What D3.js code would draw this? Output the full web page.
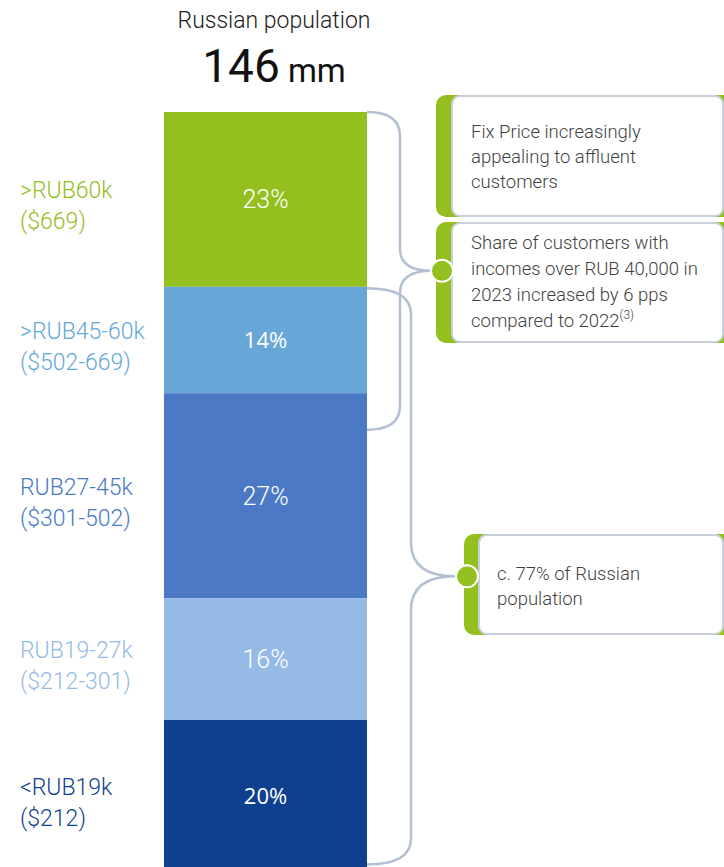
<!DOCTYPE html>
<html>
<head>
<meta charset="utf-8">
<script src="https://cdn.jsdelivr.net/npm/d3@7"></script>
<style>
  body { margin: 0; background: #fff; }
  svg { display: block; font-family: Roboto, "Open Sans", sans-serif; }
</style>
</head>
<body>
<div id="chart"></div>
<script>
// income bands of the Russian population, top of the bar first
const bands = [">RUB60k", ">RUB45-60k", "RUB27-45k", "RUB19-27k", "<RUB19k"];
const usdBands = ["($669)", "($502-669)", "($301-502)", "($212-301)", "($212)"];
const shares = [23, 14, 27, 16, 20];
const bandColors = ["#93C01F", "#66A7D8", "#4B79C5", "#95BAE6", "#0F3F8F"];
const boldLabel = [false, true, false, false, true];

// callouts
const calloutTop = ["Fix Price increasingly", "appealing to affluent", "customers"];
const calloutMid = ["Share of customers with", "incomes over RUB 40,000 in", "2023 increased by 6 pps", "compared to 2022"];
const calloutLow = ["c. 77% of Russian", "population"];
// brace spans, in % of the bar
const braceSpans = [[0, 41.8], [23.2, 99]];

const width = 724, height = 867;
const green = "#93C01F", braceColor = "#B3BFD3", boxText = "#3f3f3f";

const svg = d3.select("#chart").append("svg")
  .attr("width", width)
  .attr("height", height);

const x = d3.scaleBand().domain(["Russia"]).range([164, 367]).padding(0);
const y = d3.scaleLinear().domain([0, 100]).range([112, 872]);

// stack the shares from the top
let acc = 0;
const segs = shares.map((v, i) => {
  const s = { i, v, y0: acc, y1: acc + v };
  acc += v;
  return s;
});

// title
svg.append("text")
  .attr("x", 274).attr("y", 28)
  .attr("text-anchor", "middle")
  .style("font-size", "23px").style("font-weight", 300).attr("fill", "#222")
  .text("Russian population");

const big = svg.append("text")
  .attr("x", 274).attr("y", 82)
  .attr("text-anchor", "middle")
  .attr("fill", "#111");
big.append("tspan").style("font-size", "46px").style("font-weight", 400).text("146");
big.append("tspan").style("font-size", "33px").style("font-weight", 400).text(" mm");

// bar segments
svg.selectAll(".seg")
  .data(segs)
  .enter()
  .append("rect")
  .attr("class", "seg")
  .attr("x", x("Russia"))
  .attr("width", x.bandwidth())
  .attr("y", d => y(d.y0))
  .attr("height", d => y(d.y1) - y(d.y0))
  .attr("fill", d => bandColors[d.i]);

// percentages inside
svg.selectAll(".pct")
  .data(segs)
  .enter()
  .append("text")
  .attr("class", "pct")
  .attr("x", x("Russia") + x.bandwidth() / 2)
  .attr("y", d => y((d.y0 + d.y1) / 2))
  .attr("dy", "0.35em")
  .attr("text-anchor", "middle")
  .attr("fill", "#fff")
  .style("font-family", d => boldLabel[d.i] ? "'Open Sans', sans-serif" : "Roboto, sans-serif")
  .style("font-size", d => boldLabel[d.i] ? "22px" : "25px")
  .style("font-weight", d => boldLabel[d.i] ? 400 : 300)
  .text(d => d.v + "%");

// band labels on the left
const lab = svg.selectAll(".band")
  .data(segs)
  .enter()
  .append("text")
  .attr("class", "band")
  .attr("x", 20)
  .attr("y", d => y((d.y0 + d.y1) / 2) - 1)
  .attr("fill", d => bandColors[d.i])
  .style("font-size", "23px")
  .style("font-weight", 300);
lab.append("tspan").text(d => bands[d.i]);
lab.append("tspan").attr("x", 20).attr("dy", 31).text(d => usdBands[d.i]);

// braces
function brace(x0, xv, tip, yTop, yBot, r, r2) {
  const mid = (yTop + yBot) / 2;
  return `M${x0},${yTop} Q${xv},${yTop} ${xv},${yTop + r}` +
    ` L${xv},${mid - r2} Q${xv},${mid} ${tip},${mid}` +
    ` Q${xv},${mid} ${xv},${mid + r2}` +
    ` L${xv},${yBot - r} Q${xv},${yBot} ${x0},${yBot}`;
}

const braceGeo = [
  { xv: 400, tip: 432, r: 24, r2: 22 },
  { xv: 411, tip: 455, r: 26, r2: 34 }
];
braceSpans.forEach((s, i) => {
  const g = braceGeo[i];
  svg.append("path")
    .attr("d", brace(367, g.xv, g.tip, y(s[0]), y(s[1]), g.r, g.r2))
    .attr("fill", "none")
    .attr("stroke", braceColor)
    .attr("stroke-width", 2.5);
});

// callout boxes
function callout(gx, bx, top, bottom, lines, tx, ty, lh) {
  svg.append("rect")
    .attr("x", gx).attr("y", top - 1)
    .attr("width", 320).attr("height", bottom - top + 2)
    .attr("rx", 10).attr("fill", green);
  svg.append("rect")
    .attr("x", bx).attr("y", top)
    .attr("width", 723 - bx).attr("height", bottom - top)
    .attr("rx", 8).attr("fill", "#fff")
    .attr("stroke", "#C9CFDB").attr("stroke-width", 2);
  const t = svg.append("text")
    .attr("fill", boxText)
    .style("font-size", "18.5px").style("font-weight", 300);
  lines.forEach((l, i) => {
    t.append("tspan").attr("x", tx).attr("y", ty + i * lh).text(l);
  });
  return t;
}

callout(436, 452, 96, 216, calloutTop, 471, 138, 25);
const mid = callout(436, 452, 223, 342, calloutMid, 471, 249, 26);
mid.select("tspan:last-child").append("tspan")
  .attr("dy", -8).style("font-size", "12px").text("(3)");
callout(464, 479, 535, 634, calloutLow, 497, 580, 25);

// tips
const tipY = braceSpans.map(s => y((s[0] + s[1]) / 2));
[[442, tipY[0]], [467, tipY[1]]].forEach(p => {
  svg.append("circle")
    .attr("cx", p[0]).attr("cy", p[1]).attr("r", 11)
    .attr("fill", green).attr("stroke", "#fff").attr("stroke-width", 2);
});
</script>
</body>
</html>
